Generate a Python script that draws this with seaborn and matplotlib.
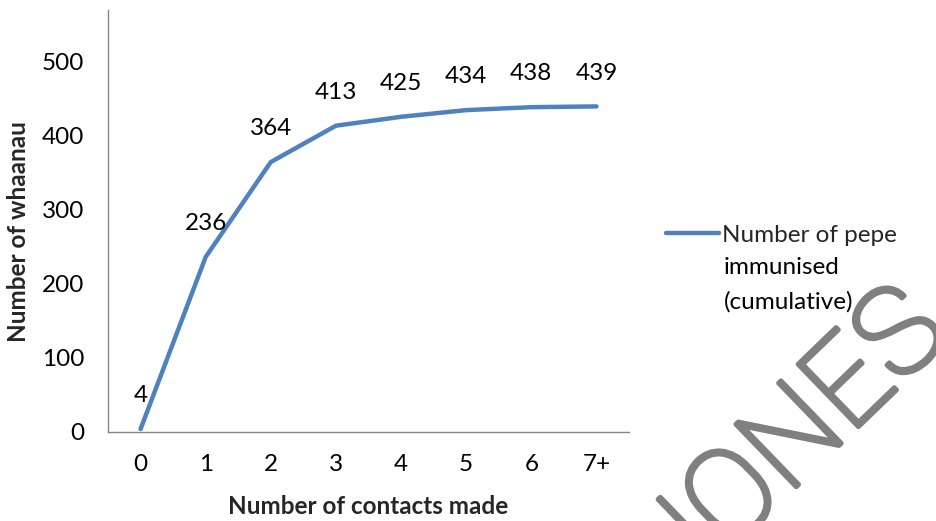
import matplotlib
matplotlib.use("Agg")
import matplotlib.pyplot as plt
import matplotlib.patheffects as pe
import seaborn as sns
import pandas as pd
from matplotlib.ticker import FixedLocator, NullFormatter

# ---- data ----
categories = ["0", "1", "2", "3", "4", "5", "6", "7+"]
immunised = [4, 236, 364, 413, 425, 434, 438, 439]
series_first_line = "Number of pepe"
series_rest = "immunised\n(cumulative)"
y_ticks = [0, 100, 200, 300, 400, 500]

sns.set_theme(style="white")
plt.rcParams["font.family"] = ["Lato", "DejaVu Sans"]

FONT = 17.5
LINE_COLOR = "#4F81BD"
AXIS_COLOR = "#868686"
MARK_COLOR = "#808080"

fig = plt.figure(figsize=(9.37, 5.21), dpi=100)
ax = fig.add_axes([108 / 937, 89 / 521, 521 / 937, 422 / 521])

df = pd.DataFrame({"contacts": categories, "count": immunised})
df["pos"] = range(len(categories))
sns.lineplot(data=df, x="pos", y="count", ax=ax, color=LINE_COLOR,
             linewidth=3.2, label=series_first_line, legend=False,
             solid_capstyle="round", solid_joinstyle="round")

for x, y in zip(df["pos"], df["count"]):
    ax.annotate(str(y), (x, y), xytext=(0, 24), textcoords="offset points",
                ha="center", va="center", fontsize=FONT, color="black")

ax.set_xlim(-0.5, len(categories) - 0.5)
ax.set_ylim(0, 569)
ax.set_yticks(y_ticks)
ax.set_yticklabels([str(t) for t in y_ticks], fontsize=FONT)
ax.set_xticks(range(len(categories)))
ax.set_xticklabels(categories, fontsize=FONT)
ax.xaxis.set_minor_locator(FixedLocator([i - 0.5 for i in range(len(categories) + 1)]))
ax.xaxis.set_minor_formatter(NullFormatter())
ax.tick_params(axis="x", which="major", length=0, pad=16, colors="black")
ax.tick_params(axis="x", which="minor", length=7, width=1, color=AXIS_COLOR, direction="out")
ax.tick_params(axis="y", which="major", length=7, width=1, color=AXIS_COLOR, direction="out",
               pad=10, labelcolor="black")
for s in ["top", "right"]:
    ax.spines[s].set_visible(False)
for s in ["left", "bottom"]:
    ax.spines[s].set_color(AXIS_COLOR)
    ax.spines[s].set_linewidth(1)
ax.grid(False)

ax.set_xlabel("Number of contacts made", fontsize=FONT, fontweight="bold")
ax.set_ylabel("Number of whaanau", fontsize=FONT, fontweight="bold")
ax.xaxis.set_label_coords(0.5, (432 - 507) / 422)
ax.yaxis.set_label_coords((18 - 108) / 521, (432 - 232) / 422)
ax.xaxis.label.set_va("center")
ax.yaxis.label.set_va("center")

handles, labels = ax.get_legend_handles_labels()
fig.legend(handles, labels, loc="center left", bbox_to_anchor=(666 / 937, 1 - 235 / 521),
           frameon=False, fontsize=FONT, handlelength=2.2, handletextpad=0.12,
           borderaxespad=0, borderpad=0)
fig.text(724 / 937, 1 - 257 / 521, series_rest, ha="left", va="top",
         fontsize=FONT, linespacing=1.75, color="black")

fig.text(793 / 937, 1 - 443 / 521, "JONES", rotation=44, rotation_mode="anchor",
         ha="center", va="center", fontsize=88, fontweight="light", color=MARK_COLOR,
         family=["Roboto", "DejaVu Sans"],
         path_effects=[pe.withStroke(linewidth=3.5, foreground=MARK_COLOR)])

fig.savefig("out.png", dpi=100)
